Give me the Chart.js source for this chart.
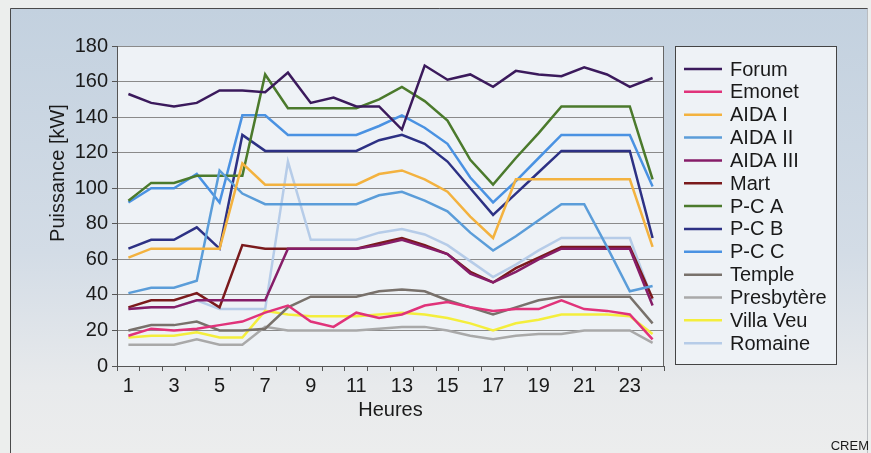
<!DOCTYPE html>
<html>
<head>
<meta charset="utf-8">
<script src="https://cdn.jsdelivr.net/npm/chart.js@4.4.1/dist/chart.umd.min.js"></script>
<style>
html, body { margin: 0; padding: 0; background: #eceeed; }
#wrap { width: 871px; height: 453px; }
</style>
</head>
<body>
<div id="wrap"><canvas id="chart"></canvas></div>
<script>
// hours of the day
const hours = ['1','2','3','4','5','6','7','8','9','10','11','12','13','14','15','16','17','18','19','20','21','22','23','24'];

// power per site [kW]
const forum      = [153,148,146,148,155,155,154,165,148,151,146,146,133,169,161,164,157,166,164,163,168,164,157,162];
const emonet     = [17,21,20,21,23,25,30,34,25,22,30,27,29,34,36,33,31,32,32,37,32,31,29,15];
const aida1      = [61,66,66,66,66,114,102,102,102,102,102,108,110,105,98,84,72,105,105,105,105,105,105,67];
const aida2      = [41,44,44,48,110,97,91,91,91,91,91,96,98,93,87,75,65,73,82,91,91,67,42,45];
const aida3      = [32,33,33,37,37,37,37,66,66,66,66,68,71,67,63,52,47,53,60,66,66,66,66,34];
const mart       = [33,37,37,41,33,68,66,66,66,66,66,69,72,68,63,53,47,55,61,67,67,67,67,38];
const pcA        = [93,103,103,107,107,107,164,145,145,145,145,150,157,149,138,116,102,117,131,146,146,146,146,105];
const pcB        = [66,71,71,78,66,130,121,121,121,121,121,127,130,125,115,100,85,97,109,121,121,121,121,72];
const pcC        = [92,100,100,108,92,141,141,130,130,130,130,135,141,134,125,106,92,104,117,130,130,130,130,101];
const temple     = [20,23,23,25,20,20,21,33,39,39,39,42,43,42,37,33,29,33,37,39,39,39,39,24];
const presbytere = [12,12,12,15,12,12,22,20,20,20,20,21,22,22,20,17,15,17,18,18,20,20,20,13];
const villaVeu   = [16,17,17,19,16,16,31,29,28,28,28,29,30,29,27,24,20,24,26,29,29,29,28,18];
const romaine    = [32,33,33,37,32,32,32,115,71,71,71,75,77,74,68,59,50,57,65,72,72,72,72,37];

const seriesNames  = ['Forum','Emonet','AIDA I','AIDA II','AIDA III','Mart','P-C A','P-C B','P-C C','Temple','Presbytère','Villa Veu','Romaine'];
const seriesValues = [forum, emonet, aida1, aida2, aida3, mart, pcA, pcB, pcC, temple, presbytere, villaVeu, romaine];
const seriesColors = ['#3b1a5c','#e0337a','#f3b23f','#5b9dd9','#861d68','#7a1a1c','#4b7a2c','#2d3184','#4a92e2','#78716b','#a9a9a9','#f4ee3c','#b6cce8'];

const yTicks = [0,20,40,60,80,100,120,140,160,180];

const FONT = '"Liberation Sans", Arial, sans-serif';

const decor = {
    id: 'decor',
    beforeDraw(chart) {
        const ctx = chart.ctx;
        const a = chart.chartArea;
        ctx.save();
        // outer frame, fading towards the bottom
        const g = ctx.createLinearGradient(0, 8, 0, 453);
        g.addColorStop(0, '#c3d1df');
        g.addColorStop(0.55, '#d3dce6');
        g.addColorStop(0.85, '#e8eaec');
        g.addColorStop(1, '#eceded');
        ctx.fillStyle = g;
        ctx.fillRect(10, 8, 858, 445);
        ctx.strokeStyle = '#4a4a4a';
        ctx.lineWidth = 1;
        ctx.beginPath();
        ctx.moveTo(10.5, 453); ctx.lineTo(10.5, 8.5); ctx.lineTo(868, 8.5);
        ctx.stroke();
        ctx.strokeStyle = '#b9bcc0';
        ctx.beginPath();
        ctx.moveTo(867.5, 8.5); ctx.lineTo(867.5, 453);
        ctx.stroke();
        // plot area
        ctx.fillStyle = '#eef2f6';
        ctx.fillRect(a.left, a.top, a.right - a.left, a.bottom - a.top);
        // legend box
        ctx.fillStyle = '#eef2f6';
        ctx.fillRect(675, 46, 161, 318);
        ctx.strokeStyle = '#444';
        ctx.strokeRect(675.5, 46.5, 161, 318);
        ctx.restore();
    },
    afterDraw(chart) {
        const ctx = chart.ctx;
        const a = chart.chartArea;
        ctx.save();
        ctx.strokeStyle = '#666';
        ctx.lineWidth = 1;
        ctx.beginPath();
        ctx.moveTo(a.right - 0.5, a.top); ctx.lineTo(a.right - 0.5, a.bottom);
        ctx.stroke();
        // legend entries
        ctx.font = '20px ' + FONT;
        ctx.textBaseline = 'middle';
        ctx.fillStyle = '#1a1a1a';
        chart.data.datasets.forEach((ds, i) => {
            const y = 69 + i * 22.85;
            ctx.strokeStyle = ds.borderColor;
            ctx.lineWidth = 2.5;
            ctx.beginPath();
            ctx.moveTo(684, y); ctx.lineTo(722, y);
            ctx.stroke();
            ctx.fillText(ds.label, 730, y + 1);
        });
        // y axis title
        ctx.save();
        ctx.translate(58, 173);
        ctx.rotate(-Math.PI / 2);
        ctx.textAlign = 'center';
        ctx.fillText('Puissance [kW]', 0, 0);
        ctx.restore();
        // source
        ctx.font = '13px ' + FONT;
        ctx.textAlign = 'right';
        ctx.fillText('CREM', 869, 446);
        ctx.restore();
    }
};

new Chart(document.getElementById('chart'), {
    type: 'line',
    data: {
        labels: hours,
        datasets: seriesNames.map((name, i) => ({
            label: name,
            data: seriesValues[i],
            borderColor: seriesColors[i],
            backgroundColor: seriesColors[i],
            borderWidth: 2.5,
            pointRadius: 0,
            tension: 0,
            fill: false
        }))
    },
    options: {
        responsive: true,
        maintainAspectRatio: false,
        animation: false,
        layout: { padding: { left: 10, top: 46, right: 207, bottom: 31 } },
        plugins: {
            legend: { display: false },
            tooltip: { enabled: false }
        },
        scales: {
            x: {
                offset: true,
                grid: { display: true, offset: true, drawOnChartArea: false, drawTicks: true, tickLength: 5, tickColor: '#555' },
                border: { display: true, color: '#555' },
                ticks: {
                    autoSkip: false,
                    maxRotation: 0,
                    padding: 3,
                    color: '#1a1a1a',
                    font: { family: FONT, size: 20 },
                    callback: (v, i) => (i % 2 === 0 ? hours[i] : '')
                },
                title: { display: true, text: 'Heures', color: '#1a1a1a', font: { family: FONT, size: 20 }, padding: 0 },
                afterFit: s => { s.height = 56; }
            },
            y: {
                min: 0,
                max: 180,
                afterBuildTicks: s => { s.ticks = yTicks.map(v => ({ value: v })); },
                grid: { color: '#8a8a8a', lineWidth: 1, tickLength: 5, tickColor: '#555' },
                border: { display: true, color: '#555' },
                ticks: { padding: 4, color: '#1a1a1a', font: { family: FONT, size: 20 } },
                afterFit: s => { s.width = 107; }
            }
        }
    },
    plugins: [decor]
});
</script>
</body>
</html>
